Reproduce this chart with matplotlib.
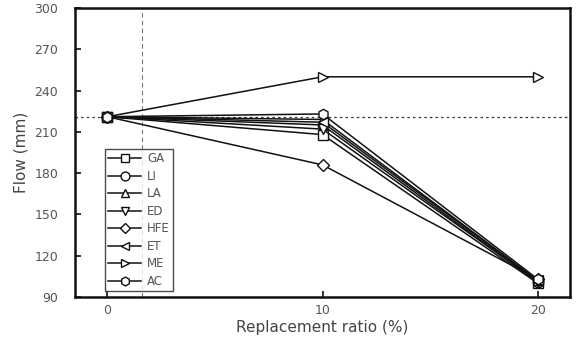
import numpy as np
import matplotlib.pyplot as plt

plt.rcParams['font.family'] = ['DejaVu Sans']

# data
ratio = [0, 10, 20]
names = ['GA', 'LI', 'LA', 'ED', 'HFE', 'ET', 'ME', 'AC']
markers = ['s', 'o', '^', 'v', 'D', '<', '>', 'h']
flow_GA = [221, 208, 100]
flow_LI = [221, 215, 101]
flow_LA = [221, 219, 102]
flow_ED = [221, 212, 101]
flow_HFE = [221, 186, 103]
flow_ET = [221, 217, 102]
flow_ME = [221, 250, 250]
flow_AC = [221, 223, 103]
series = [flow_GA, flow_LI, flow_LA, flow_ED, flow_HFE, flow_ET, flow_ME, flow_AC]

yticks = [90, 120, 150, 180, 210, 240, 270, 300]
xticks = [0, 10, 20]
ref_flow = 221
ref_ratio = 1.6

fig = plt.figure(figsize=(5.79, 3.39), dpi=100)
ax = fig.add_axes([75/579, 42/339, 495/579, 289/339])

ax.axhline(ref_flow, color='#333333', ls=(0, (2, 2.5)), lw=0.9, zorder=1)
ax.axvline(ref_ratio, color='#777777', ls=(0, (4, 3)), lw=0.8, zorder=1)

for nm, mk, vals in zip(names, markers, series):
    ms = 6.5 if mk == 'D' else 7.5
    ax.plot(ratio, vals, color='#111111', lw=1.1, marker=mk, ms=ms,
            mfc='white', mec='#111111', mew=1.0, label=nm, zorder=3)

ax.set_xlim(-1.5, 21.5)
ax.set_ylim(90, 300)
ax.set_xticks(xticks)
ax.set_yticks(yticks)
ax.tick_params(direction='in', length=4, width=1.2, colors='#111111',
               labelcolor='#555555', labelsize=9)
ax.tick_params(axis='y', pad=12)
ax.tick_params(axis='x', pad=5)
for sp in ax.spines.values():
    sp.set_linewidth(1.8)
    sp.set_color('#111111')

ax.set_xlabel('Replacement ratio (%)', fontsize=11, color='#444444', labelpad=2)
ax.set_ylabel('Flow (mm)', fontsize=11, color='#444444', labelpad=4)

leg = ax.legend(loc='lower left', bbox_to_anchor=(0.06, 0.02), fontsize=8.5,
                frameon=True, fancybox=False, edgecolor='#222222',
                handlelength=2.8, labelspacing=0.38, borderpad=0.3,
                handletextpad=0.5, labelcolor='#555555', markerscale=0.85,
                borderaxespad=0.0)
leg.get_frame().set_linewidth(1.0)

fig.savefig('out.png', dpi=100)
